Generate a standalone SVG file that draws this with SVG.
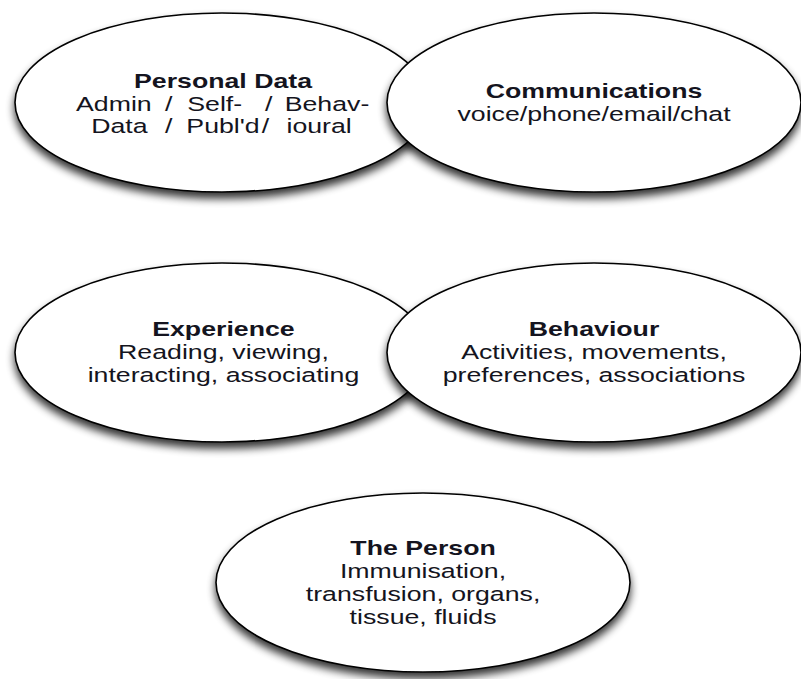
<svg xmlns="http://www.w3.org/2000/svg" width="801" height="679" viewBox="0 0 801 679">
  <defs>
    <!-- soft drop shadow under each bubble -->
    <filter id="shadow" x="-10%" y="-15%" width="120%" height="140%">
      <feGaussianBlur in="SourceAlpha" stdDeviation="4.5"/>
      <feOffset dx="0" dy="6" result="blur"/>
      <feComponentTransfer>
        <feFuncA type="linear" slope="0.8"/>
      </feComponentTransfer>
      <feMerge>
        <feMergeNode/>
        <feMergeNode in="SourceGraphic"/>
      </feMerge>
    </filter>
  </defs>
  <style>
    .bubble { fill: #ffffff; stroke: #000000; stroke-width: 1.6; filter: url(#shadow); }
    .lbl { font-family: "Liberation Sans", Arial, Helvetica, sans-serif; font-size: 19.5px; fill: #141420; }
    .c { text-anchor: middle; }
    .h { font-weight: bold; }
  </style>
  <rect width="801" height="679" fill="#ffffff"/>

  <g id="personal-data">
    <ellipse class="bubble" cx="222" cy="102.5" rx="207" ry="89.5"/>
    <g transform="scale(1.37 1)">
      <text class="lbl c h" x="162.8" y="88">Personal Data</text>
      <text class="lbl" y="111">
        <tspan x="55.5">Admin</tspan><tspan x="120.4">/</tspan><tspan x="136.7">Self-</tspan><tspan x="193.4">/</tspan><tspan x="207.8">Behav-</tspan>
      </text>
      <text class="lbl" y="133.5">
        <tspan x="66.6">Data</tspan><tspan x="120.4">/</tspan><tspan x="136">Publ'd</tspan><tspan x="191">/</tspan><tspan x="209.1">ioural</tspan>
      </text>
    </g>
  </g>

  <g id="communications">
    <ellipse class="bubble" cx="594" cy="102.5" rx="207" ry="89.5"/>
    <g transform="scale(1.37 1)">
      <text class="lbl c h" x="433.6" y="98.5">Communications</text>
      <text class="lbl c" x="433.6" y="121.5">voice/phone/email/chat</text>
    </g>
  </g>

  <g id="experience">
    <ellipse class="bubble" cx="222" cy="352.5" rx="207" ry="89.5"/>
    <g transform="scale(1.37 1)">
      <text class="lbl c h" x="163.1" y="336">Experience</text>
      <text class="lbl c" x="163.1" y="359">Reading, viewing,</text>
      <text class="lbl c" x="163.1" y="382">interacting, associating</text>
    </g>
  </g>

  <g id="behaviour">
    <ellipse class="bubble" cx="594" cy="352.5" rx="207" ry="89.5"/>
    <g transform="scale(1.37 1)">
      <text class="lbl c h" x="433.6" y="336.5">Behaviour</text>
      <text class="lbl c" x="433.6" y="359.5">Activities, movements,</text>
      <text class="lbl c" x="433.6" y="382.5">preferences, associations</text>
    </g>
  </g>

  <g id="the-person">
    <ellipse class="bubble" cx="423" cy="582.5" rx="207" ry="89.5"/>
    <g transform="scale(1.37 1)">
      <text class="lbl c h" x="308.8" y="555">The Person</text>
      <text class="lbl c" x="308.8" y="578">Immunisation,</text>
      <text class="lbl c" x="308.8" y="601">transfusion, organs,</text>
      <text class="lbl c" x="308.8" y="624">tissue, fluids</text>
    </g>
  </g>

  <g id="connectors"/>
</svg>
